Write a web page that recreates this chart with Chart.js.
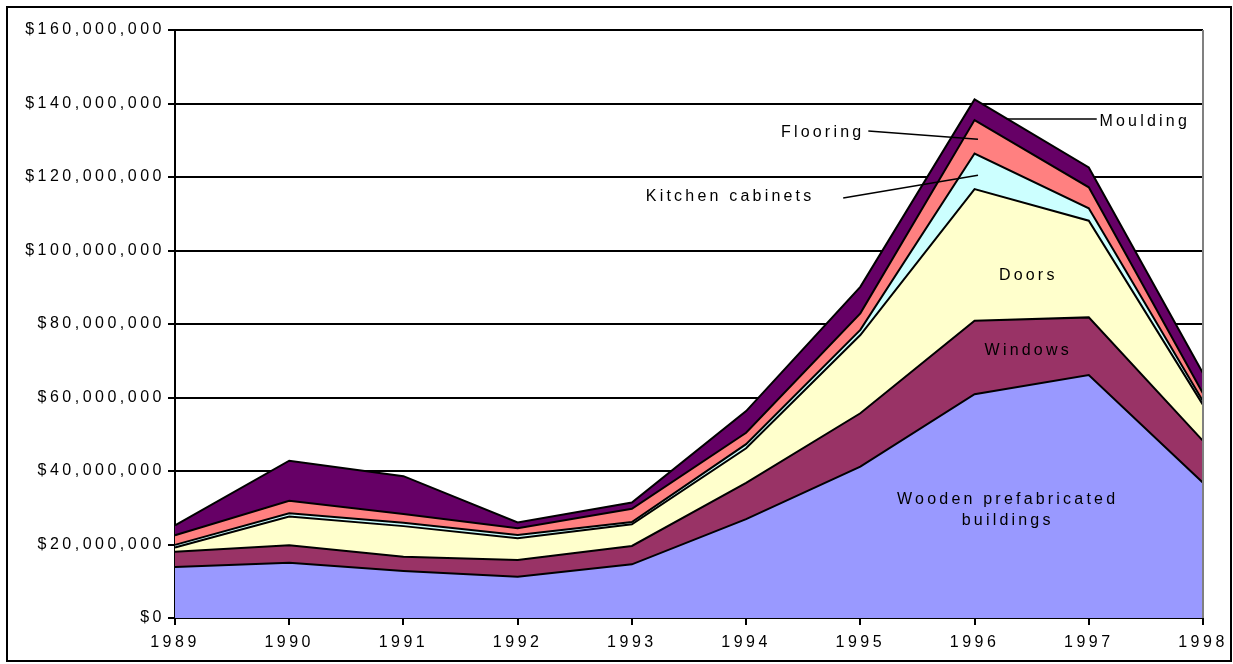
<!DOCTYPE html>
<html>
<head>
<meta charset="utf-8">
<script src="https://cdn.jsdelivr.net/npm/chart.js@4/dist/chart.umd.min.js"></script>
<style>
  html, body { margin: 0; padding: 0; background: #fff; }
  #wrap { position: relative; width: 1233px; height: 664px; }
  #frame { position: absolute; left: 6px; top: 6px; width: 1226px; height: 656px; border: 2px solid #000; box-sizing: border-box; pointer-events: none; }
</style>
</head>
<body>
<div id="wrap">
  <canvas id="c" width="1233" height="664"></canvas>
  <div id="frame"></div>
</div>
<script>
  // --- data (millions of dollars) ---
  const years = ["1989", "1990", "1991", "1992", "1993", "1994", "1995", "1996", "1997", "1998"];
  const wooden    = [13.9, 15.0, 12.8, 11.2, 14.6, 26.9, 41.2, 60.9, 66.1, 36.8];
  const windows   = [4.1, 4.8, 3.9, 4.6, 5.0, 9.9, 14.5, 20.0, 15.7, 11.4];
  const doors     = [1.2, 7.8, 8.3, 5.9, 5.9, 9.4, 21.3, 35.8, 26.3, 9.8];
  const kitchen   = [0.7, 0.9, 0.9, 0.9, 0.6, 1.1, 1.4, 9.7, 3.4, 1.0];
  const flooring  = [2.6, 3.4, 2.4, 1.8, 3.6, 3.1, 4.5, 9.1, 5.7, 2.1];
  const moulding  = [2.7, 10.9, 10.3, 1.6, 1.7, 5.9, 7.2, 5.6, 5.4, 5.5];

  const M = 1e6;
  const toDollars = (arr) => arr.map(v => v * M);

  // labels in data coords: [xIndex, valueInMillions]
  const labels = [
    { text: "Wooden prefabricated", at: [7.29, 32.1] },
    { text: "buildings", at: [7.29, 26.4] },
    { text: "Windows", at: [7.47, 72.7] },
    { text: "Doors", at: [7.47, 93.3] },
    { text: "Kitchen cabinets", at: [4.86, 114.8], line: [[5.85, 114.3], [7.03, 120.5]] },
    { text: "Flooring", at: [5.67, 132.2], line: [[6.07, 132.5], [7.03, 130.3]] },
    { text: "Moulding", at: [8.49, 135.2], line: [[7.28, 135.8], [8.07, 135.8]] }
  ];

  const FONT = "'Liberation Sans', Arial, sans-serif";
  const TICK_SPACING = "3.5px";
  const NOTE_SPACING = "3.2px";

  const mk = (label, data, color, fill) => ({
    label, data: toDollars(data), backgroundColor: color, fill,
    borderColor: "#000", borderWidth: 2, pointRadius: 0, tension: 0
  });

  const spacingPlugin = {
    id: "spacing",
    beforeLayout(chart) { chart.ctx.letterSpacing = TICK_SPACING; },
    beforeDraw(chart) { chart.ctx.letterSpacing = TICK_SPACING; }
  };

  const notesPlugin = {
    id: "notes",
    afterDatasetsDraw(chart) {
      const { ctx, scales: { y }, chartArea } = chart;
      const px = (i) => chartArea.left + (chartArea.right - chartArea.left) * i / (years.length - 1);
      const py = (v) => y.getPixelForValue(v * M);
      ctx.save();
      // grey right edge of plot
      ctx.strokeStyle = "#808080";
      ctx.lineWidth = 2;
      ctx.beginPath();
      ctx.moveTo(chartArea.right, chartArea.top);
      ctx.lineTo(chartArea.right, chartArea.bottom);
      ctx.stroke();

      ctx.letterSpacing = NOTE_SPACING;
      ctx.font = "16px " + FONT;
      ctx.fillStyle = "#000";
      ctx.textAlign = "center";
      ctx.textBaseline = "middle";
      labels.forEach(l => {
        if (l.line) {
          ctx.strokeStyle = "#000";
          ctx.lineWidth = 1.5;
          ctx.beginPath();
          ctx.moveTo(px(l.line[0][0]), py(l.line[0][1]));
          ctx.lineTo(px(l.line[1][0]), py(l.line[1][1]));
          ctx.stroke();
        }
        ctx.fillText(l.text, px(l.at[0]), py(l.at[1]));
      });
      ctx.restore();
    }
  };

  new Chart(document.getElementById("c"), {
    type: "line",
    data: {
      labels: years,
      datasets: [
        mk("Wooden prefabricated buildings", wooden, "#9999FF", "origin"),
        mk("Windows", windows, "#993366", "-1"),
        mk("Doors", doors, "#FFFFCC", "-1"),
        mk("Kitchen cabinets", kitchen, "#CCFFFF", "-1"),
        mk("Flooring", flooring, "#FF8080", "-1"),
        mk("Moulding", moulding, "#660066", "-1")
      ]
    },
    options: {
      responsive: false,
      animation: false,
      layout: { padding: { left: 0, top: 30, right: 30, bottom: 0 } },
      plugins: { legend: { display: false }, tooltip: { enabled: false } },
      scales: {
        x: {
          offset: false,
          grid: { display: true, drawOnChartArea: false, drawTicks: true, tickLength: 7, color: "#000", lineWidth: 2 },
          border: { display: true, color: "#000", width: 2 },
          ticks: { color: "#000", font: { family: FONT, size: 16 }, padding: 8, maxRotation: 0, autoSkip: false },
          afterFit(s) { s.height = 46; s.paddingLeft = 0; s.paddingRight = 0; }
        },
        y: {
          stacked: true,
          min: 0, max: 160 * M,
          grid: { color: "#000", lineWidth: 2, tickLength: 7, drawTicks: true },
          border: { display: true, color: "#000", width: 2 },
          ticks: {
            stepSize: 20 * M, color: "#000", font: { family: FONT, size: 16 }, padding: 3,
            callback: (v) => "$" + Number(v).toLocaleString("en-US")
          },
          afterFit(s) { s.width = 175; }
        }
      }
    },
    plugins: [spacingPlugin, notesPlugin]
  });
</script>
</body>
</html>
